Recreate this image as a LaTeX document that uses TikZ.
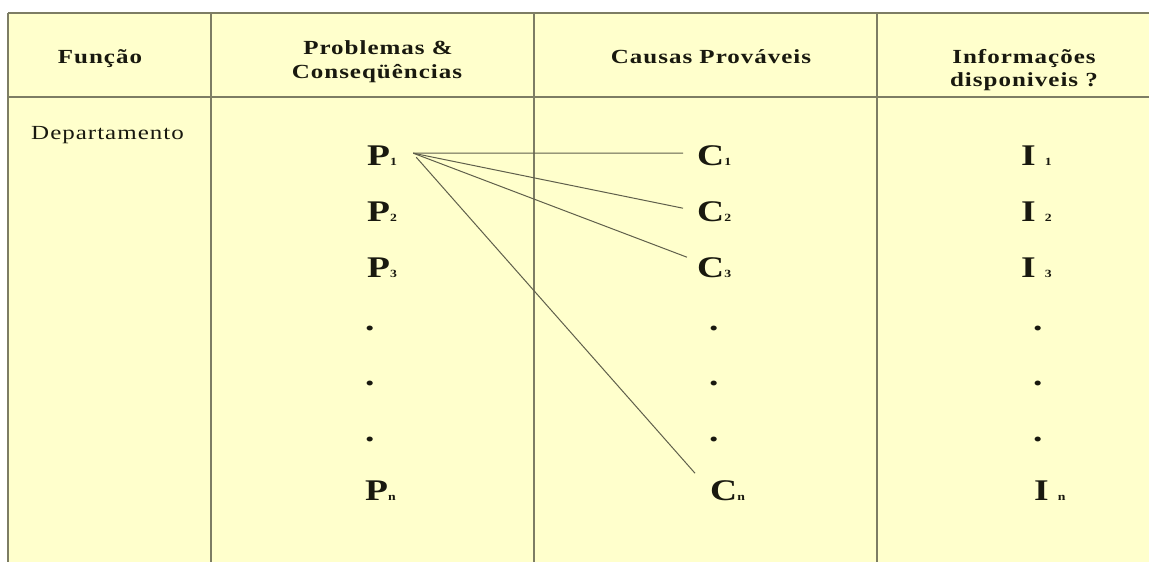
\documentclass[tikz,border=0pt]{standalone}
\usepackage{fontspec}
\newfontfamily\mytf[FakeStretch=1.25,LetterSpace=5]{Liberation Serif}
\definecolor{bgyel}{RGB}{255,255,204}
\definecolor{gridc}{RGB}{125,125,100}
\definecolor{linkc}{RGB}{95,95,75}
\definecolor{txtc}{RGB}{25,25,15}
\tikzset{
  hdr/.style={inner sep=0pt, anchor=base, text=txtc, font=\mytf\bfseries\fontsize{20}{24}\selectfont},
  plain/.style={inner sep=0pt, anchor=base west, text=txtc, font=\mytf\fontsize{20}{24}\selectfont},
  letter/.style={inner sep=0pt, anchor=base west, text=txtc, font=\mytf\bfseries\fontsize{30}{30}\selectfont},
  grid/.style={draw=gridc, line width=1.6pt},
  link/.style={draw=linkc, line width=1pt}
}
\newcommand{\sbs}[1]{{\fontsize{11}{11}\selectfont #1}}
\begin{document}
\begin{tikzpicture}[x=1pt,y=-1pt]
\useasboundingbox (0,0) rectangle (1149,562);
\fill[bgyel] (8,13) rectangle (1149,562);
% grid
\draw[grid] (8,13) -- (1149,13);
\draw[grid] (8,97) -- (1149,97);
\draw[grid] (8,13) -- (8,562);
\draw[grid] (211,13) -- (211,562);
\draw[grid] (534,13) -- (534,562);
\draw[grid] (877,13) -- (877,562);
% headers
\node[hdr] (hf) at (100,63) {Função};
\node[hdr] (hp1) at (378,54) {Problemas \&};
\node[hdr] (hp2) at (377,78) {Conseqüências};
\node[hdr] (hc) at (711,63) {Causas Prováveis};
\node[hdr] (hi1) at (1024,63) {Informações};
\node[hdr] (hi2) at (1024,86) {disponiveis ?};
\node[plain] (dep) at (31,139) {Departamento};
% P column
\node[letter] (P1) at (367,165) {P\sbs{1}};
\node[letter] (P2) at (367,221) {P\sbs{2}};
\node[letter] (P3) at (367,277) {P\sbs{3}};
\node[letter] (pd1) at (365,330) {.};
\node[letter] (pd2) at (365,385) {.};
\node[letter] (pd3) at (365,441) {.};
\node[letter] (Pn) at (365,500) {P\sbs{n}};
% C column
\node[letter] (C1) at (697,165) {C\sbs{1}};
\node[letter] (C2) at (697,221) {C\sbs{2}};
\node[letter] (C3) at (697,277) {C\sbs{3}};
\node[letter] (cd1) at (709,330) {.};
\node[letter] (cd2) at (709,385) {.};
\node[letter] (cd3) at (709,441) {.};
\node[letter] (Cn) at (710,500) {C\sbs{n}};
% I column
\node[letter] (I1) at (1021,165) {I\hspace{9pt}\sbs{1}};
\node[letter] (I2) at (1021,221) {I\hspace{9pt}\sbs{2}};
\node[letter] (I3) at (1021,277) {I\hspace{9pt}\sbs{3}};
\node[letter] (id1) at (1033,330) {.};
\node[letter] (id2) at (1033,385) {.};
\node[letter] (id3) at (1033,441) {.};
\node[letter] (In) at (1034,500) {I\hspace{9pt}\sbs{n}};
% connectors
\coordinate (o) at ([xshift=16pt,yshift=2pt]P1.east);
\coordinate (o2) at ([xshift=19pt,yshift=-2pt]P1.east);
\coordinate (e1) at ([xshift=-14pt,yshift=2pt]C1.west);
\coordinate (e2) at ([xshift=-14pt,yshift=3pt]C2.west);
\coordinate (e3) at ([xshift=-10pt,yshift=10pt]C3.west);
\coordinate (en) at ([xshift=-15pt,yshift=17pt]Cn.west);
\draw[link] (o) -- (e1);
\draw[link] (o) -- (e2);
\draw[link] (o) -- (e3);
\draw[link] (o2) -- (en);
\end{tikzpicture}
\end{document}
